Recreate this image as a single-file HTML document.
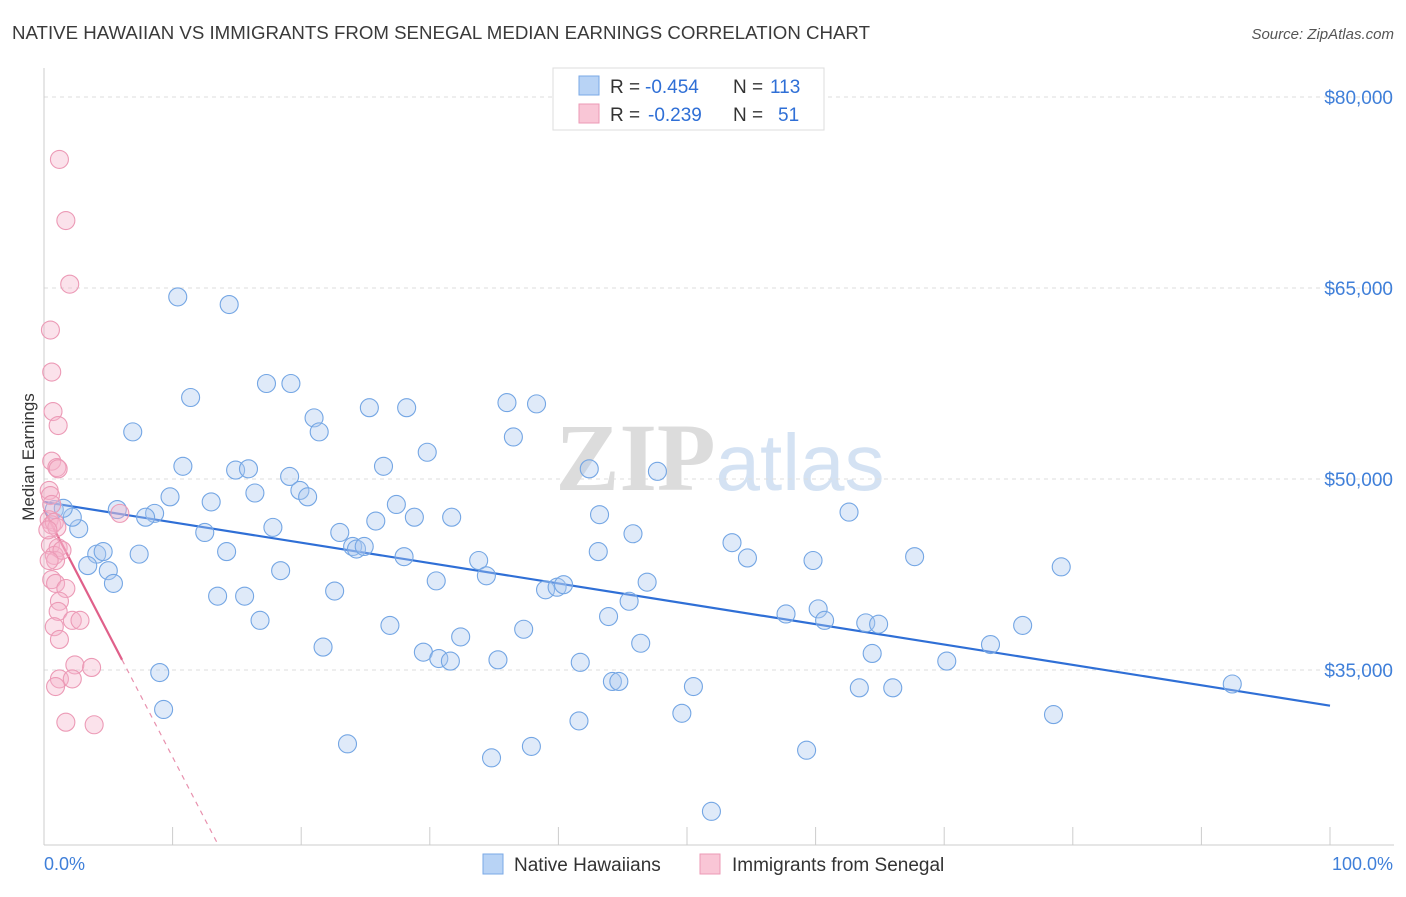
<!DOCTYPE html>
<html><head><meta charset="utf-8">
<style>
body{margin:0;background:#fff;font-family:"Liberation Sans",sans-serif;}
svg text{font-family:"Liberation Sans",sans-serif;}
</style></head>
<body>
<svg id="chart" width="1406" height="892" xmlns="http://www.w3.org/2000/svg">
<text x="12" y="39" font-size="18" fill="#3a3a3a" textLength="858" lengthAdjust="spacingAndGlyphs">NATIVE HAWAIIAN VS IMMIGRANTS FROM SENEGAL MEDIAN EARNINGS CORRELATION CHART</text>
<text x="1394" y="39" font-size="15" fill="#555" text-anchor="end" font-style="italic">Source: ZipAtlas.com</text>
<text x="720" y="490" font-size="96" text-anchor="middle" fill="#e6e6e6"><tspan font-family="Liberation Serif" font-weight="bold" fill="#dcdcdc">ZIP</tspan><tspan fill="#d4e2f3" font-size="80">atlas</tspan></text>
<g id="grid"></g>
<g id="axes"></g>
<g id="trends"></g>
<g id="points"></g>
<text transform="translate(34,457) rotate(-90)" font-size="17" fill="#333" text-anchor="middle">Median Earnings</text>
<g>
<rect x="553" y="68" width="271" height="62" fill="#fff" stroke="#ddd"/>
<rect x="579" y="76" width="20" height="19" fill="#b8d3f5" stroke="#7aa8e6"/>
<rect x="579" y="104" width="20" height="19" fill="#f9c6d6" stroke="#ec9ab6"/>
<text x="610" y="93" font-size="19" fill="#333">R =</text>
<text x="645" y="93" font-size="19" fill="#2f6fd6">-0.454</text>
<text x="733" y="93" font-size="19" fill="#333">N =</text>
<text x="770" y="93" font-size="19" fill="#2f6fd6">113</text>
<text x="610" y="121" font-size="19" fill="#333">R =</text>
<text x="648" y="121" font-size="19" fill="#2f6fd6">-0.239</text>
<text x="733" y="121" font-size="19" fill="#333">N =</text>
<text x="778" y="121" font-size="19" fill="#2f6fd6">51</text>
</g>
<g>
<rect x="483" y="854" width="20" height="20" fill="#b8d3f5" stroke="#7aa8e6"/>
<text x="514" y="871" font-size="19" fill="#333">Native Hawaiians</text>
<rect x="700" y="854" width="20" height="20" fill="#f9c6d6" stroke="#ec9ab6"/>
<text x="732" y="871" font-size="19" fill="#333">Immigrants from Senegal</text>
</g>
<text x="44" y="870" font-size="18" fill="#3f7fd9">0.0%</text>
<text x="1393" y="870" font-size="18" fill="#3f7fd9" text-anchor="end">100.0%</text>
</svg>
<script>
const yTicks=[35000,50000,65000,80000];
const yTickLabels=["$35,000","$50,000","$65,000","$80,000"];
const xTicks=[0,10,20,30,40,50,60,70,80,90,100];
const blueX=[10.4,14.4,11.4,17.3,19.2,6.9,10.8,14.9,15.9,21.0,21.4,25.3,28.2,36.0,38.3,36.5,29.8,26.4,19.1,42.4,47.7,5.7,8.6,7.9,9.8,13.0,16.4,19.9,20.5,12.5,14.2,17.8,2.7,2.2,0.8,1.5,4.1,4.6,3.4,5.0,5.4,7.4,13.5,15.6,16.8,18.4,23.0,24.0,24.3,24.9,25.8,27.4,28.8,31.7,28.0,22.6,30.5,33.8,34.4,26.9,32.4,21.7,29.5,30.7,31.6,35.3,37.3,39.0,39.9,40.4,43.2,43.1,45.8,46.9,45.5,43.9,46.4,41.7,44.2,44.7,41.6,37.9,34.8,23.6,9.0,9.3,50.5,49.6,51.9,53.5,54.7,57.7,59.8,60.2,60.7,62.6,63.9,64.9,64.4,63.4,66.0,67.7,70.2,73.6,76.1,79.1,78.5,92.4,59.3];
const blueY=[64.3,63.7,56.4,57.5,57.5,53.7,51.0,50.7,50.8,54.8,53.7,55.6,55.6,56.0,55.9,53.3,52.1,51.0,50.2,50.8,50.6,47.6,47.3,47.0,48.6,48.2,48.9,49.1,48.6,45.8,44.3,46.2,46.1,47.0,47.6,47.7,44.1,44.3,43.2,42.8,41.8,44.1,40.8,40.8,38.9,42.8,45.8,44.7,44.5,44.7,46.7,48.0,47.0,47.0,43.9,41.2,42.0,43.6,42.4,38.5,37.6,36.8,36.4,35.9,35.7,35.8,38.2,41.3,41.5,41.7,47.2,44.3,45.7,41.9,40.4,39.2,37.1,35.6,34.1,34.1,31.0,29.0,28.1,29.2,34.8,31.9,33.7,31.6,23.9,45.0,43.8,39.4,43.6,39.8,38.9,47.4,38.7,38.6,36.3,33.6,33.6,43.9,35.7,37.0,38.5,43.1,31.5,33.9,28.7];
const pinkX=[1.2,1.7,2.0,0.5,0.6,0.7,1.1,0.6,1.0,1.1,0.4,0.5,0.6,5.9,0.4,0.6,0.8,1.0,0.5,1.1,0.8,0.9,0.6,0.9,1.7,1.2,1.1,2.2,2.8,0.8,1.2,2.4,3.7,1.2,2.2,0.9,1.7,3.9,0.3,1.4,0.4];
const pinkY=[75.1,70.3,65.3,61.7,58.4,55.3,54.2,51.4,50.9,50.8,49.1,48.7,48.0,47.3,46.8,46.4,46.6,46.2,44.8,44.6,44.0,43.6,42.1,41.8,41.4,40.4,39.6,38.9,38.9,38.4,37.4,35.4,35.2,34.3,34.3,33.7,30.9,30.7,46.0,44.4,43.6];
const blueTrend=[48.2,32.2];
const pinkTrend=[47.6,-1.944];
const pinkSolidEnd=6.07;

const NS="http://www.w3.org/2000/svg";
const X=p=>44+p*12.86;
const Y=v=>97+(80000-v)/15000*191;
const Yk=k=>Y(k*1000);
function mk(tag,attrs,parent){const e=document.createElementNS(NS,tag);for(const k in attrs)e.setAttribute(k,attrs[k]);document.getElementById(parent).appendChild(e);return e;}

yTicks.forEach((t,i)=>{
  const l=mk('line',{x1:44,x2:1394,y1:Y(t),y2:Y(t),stroke:'#ddd','stroke-dasharray':'4,4'},'grid');
  
  
  const tx=mk('text',{x:1393,y:Y(t)+7,'font-size':19,fill:'#3f7fd9','text-anchor':'end'},'axes');
  tx.textContent=yTickLabels[i];
  
  
});
const yAx=mk('line',{x1:44,x2:44,y1:68,y2:845,stroke:'#ccc'},'axes');


const xAx=mk('line',{x1:44,x2:1394,y1:845,y2:845,stroke:'#ccc'},'axes');


xTicks.forEach(t=>{
  const l=mk('line',{x1:X(t),x2:X(t),y1:827,y2:845,stroke:'#ccc'},'axes');
  
  
});

blueX.forEach((x,i)=>{
  const c=mk('circle',{cx:X(x),cy:Yk(blueY[i]),r:9,fill:'rgba(170,200,240,0.38)',stroke:'#74a6e4','stroke-width':1.1},'points');
  
  
});
pinkX.forEach((x,i)=>{
  const c=mk('circle',{cx:X(x),cy:Yk(pinkY[i]),r:9,fill:'rgba(245,180,202,0.38)',stroke:'#ec9ab6','stroke-width':1.1},'points');
  
  
});

const bl=mk('line',{x1:X(0),y1:Yk(blueTrend[0]),x2:X(100),y2:Yk(blueTrend[1]),stroke:'#2f6fd6','stroke-width':2.2},'trends');


const pv=p=>pinkTrend[0]+pinkTrend[1]*p;
const pl=mk('line',{x1:X(0),y1:Yk(pv(0)),x2:X(pinkSolidEnd),y2:Yk(pv(pinkSolidEnd)),stroke:'#e0608a','stroke-width':2.2},'trends');


const pEnd=(pinkTrend[0]-21.26)/-pinkTrend[1];
const pd=mk('line',{x1:X(pinkSolidEnd),y1:Yk(pv(pinkSolidEnd)),x2:X(pEnd),y2:Yk(pv(pEnd)),stroke:'#e891ae','stroke-width':1.2,'stroke-dasharray':'5,5'},'trends');


</script>
</body></html>
